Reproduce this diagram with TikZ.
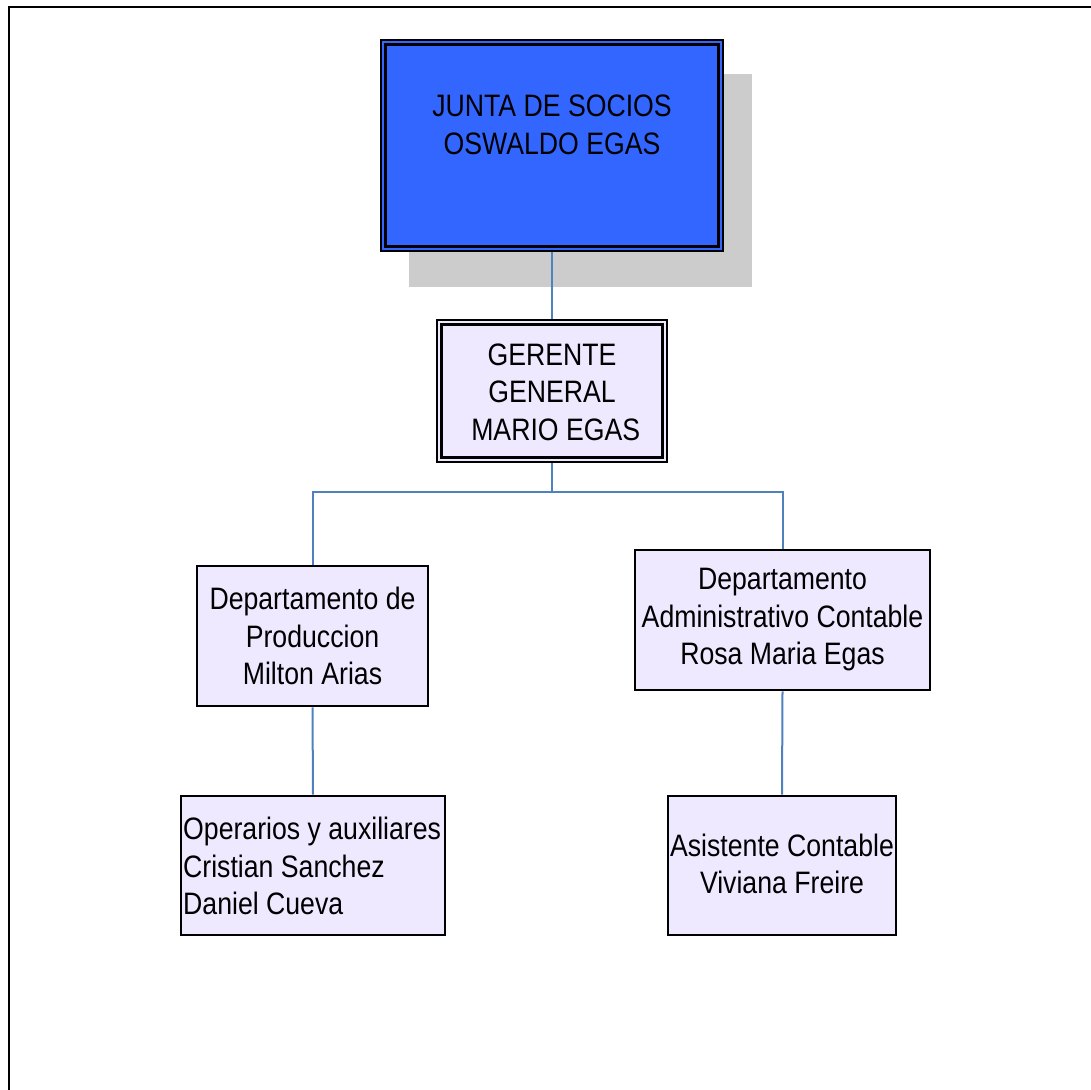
\documentclass[tikz,border=0pt]{standalone}
\usepackage{fontspec}
\setmainfont{Liberation Sans}[FakeStretch=0.86]
\definecolor{boardblue}{RGB}{51,102,255}
\definecolor{unitfill}{RGB}{238,233,255}
\definecolor{shadowgray}{RGB}{204,204,204}
\definecolor{linkblue}{RGB}{79,129,189}
\tikzset{
  orgbox/.style={draw=black, line width=2.6pt, fill=unitfill, inner sep=0pt},
  lbl/.style={inner sep=0pt, align=center, text=black,
    font=\fontsize{31}{37.5}\selectfont},
  conn/.style={draw=linkblue, line width=2pt},
  innerline/.style={draw=black, line width=2.6pt}
}
\begin{document}
\begin{tikzpicture}[x=1pt, y=-1pt]
\useasboundingbox (0,0) rectangle (1091,1089);
% page frame (top and left edges)
\draw[line width=2.6pt] (9,1095) -- (9,7) -- (1095,7);

% drop shadow behind the board box
\fill[shadowgray] (409,74) rectangle (752,287);

% board of partners
\node[orgbox, fill=boardblue, minimum width=342pt, minimum height=211pt] (junta) at (552,145.5) {};
\draw[innerline] ([shift={(6,6)}]junta.north west) rectangle ([shift={(-6,-6)}]junta.south east);
\node[lbl] (tjunta) at (552,125) {JUNTA DE SOCIOS\\ OSWALDO EGAS};

% general manager
\node[orgbox, minimum width=230pt, minimum height=142pt] (ger) at (552,391) {};
\draw[innerline] ([shift={(6,6)}]ger.north west) rectangle ([shift={(-6,-6)}]ger.south east);
\node[lbl] (tger) at (552,392) {GERENTE\\ GENERAL\\ \ MARIO EGAS};

% departments
\node[orgbox, minimum width=231pt, minimum height=140pt] (dprod) at (312.5,636) {};
\node[lbl] (tdprod) at (312.5,636) {Departamento de\\ Produccion\\ Milton Arias};

\node[orgbox, minimum width=295pt, minimum height=140pt] (dadm) at (782.5,620) {};
\node[lbl] (tdadm) at (782.5,620) {Departamento\\ Administrativo Contable\\ Rosa Maria Egas};

% staff
\node[orgbox, minimum width=264pt, minimum height=139pt] (oper) at (313,865.5) {};
\node[lbl, align=left, anchor=west] (toper) at (183,866) {Operarios y auxiliares\\ Cristian Sanchez\\ Daniel Cueva};

\node[orgbox, minimum width=228pt, minimum height=139pt] (asis) at (782,865.5) {};
\node[lbl] (tasis) at (782,864) {Asistente Contable\\ Viviana Freire};

% connectors
\coordinate (bus) at (552,492);
\draw[conn] (junta.south) -- (ger.north);
\draw[conn] (ger.south) -- (bus);
\draw[conn] (bus) -| (dprod.north);
\draw[conn] (bus) -| (dadm.north);
\draw[conn] (dprod.south) -- (oper.north);
\draw[conn] (dadm.south) -- (asis.north);
\end{tikzpicture}
\end{document}
